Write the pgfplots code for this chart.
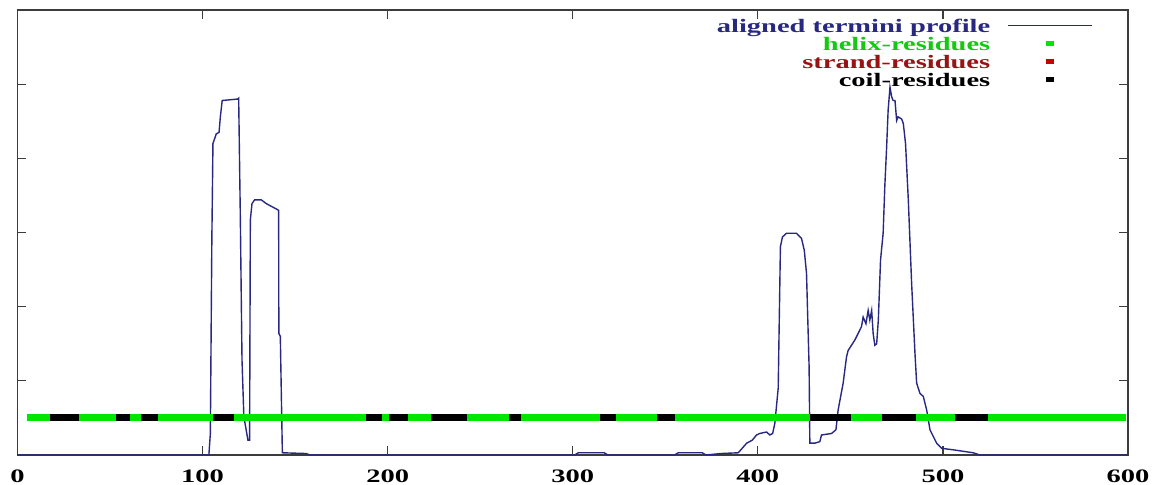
\documentclass[border=0pt]{standalone}
\usepackage{fontspec}
\usepackage{pgfplots}
\pgfplotsset{compat=1.18}
\newfontfamily\widefont[FakeStretch=1.5]{Liberation Serif}
\newcommand\lbl{\widefont\bfseries\fontsize{9.5}{11}\selectfont}
\definecolor{profcol}{RGB}{40,40,130}
\definecolor{helixcol}{RGB}{0,230,0}
\definecolor{helixtxt}{RGB}{20,200,20}
\definecolor{strandcol}{RGB}{200,0,0}
\definecolor{strandtxt}{RGB}{150,20,20}
\definecolor{bordercol}{RGB}{60,60,60}
\pgfplotsset{
  lineleg/.style={legend image code/.code={\draw[##1] (0pt,0.8pt) -- (42pt,0.8pt);}},
  sqleg/.style={legend image code/.code={\path[draw=none] (0pt,0pt) -- (42pt,0pt);
      \fill[#1, draw=none] (19.1pt,-0.6pt) rectangle (22.9pt,2.2pt);}},
}

\begin{document}
\begin{tikzpicture}
\path[use as bounding box] (-8.75pt,-14.5pt) rectangle (572.25pt,227.5pt);
\begin{axis}[
    scale only axis,
    width=555.25pt, height=222.5pt,
    xmin=0, xmax=600, ymin=0, ymax=6,
    xtick={0,100,...,600},
    ytick={0,...,6}, yticklabels={},
    tick align=inside,
    major tick length=4.5pt,
    axis line style={draw=bordercol, line width=0.7pt},
    every tick/.style={bordercol, line width=0.6pt},
    ticklabel style={font=\lbl},
    /pgf/number format/assume math mode=true,
    xticklabel style={yshift=-3.8pt},
    legend plot pos=right,
    legend style={at={(axis description cs:0.9685,0.983)}, anchor=north east,
      draw=none, fill=none, inner sep=0pt, font=\lbl,
      cells={anchor=east}, row sep=0.05pt, column sep=8pt,
      nodes={inner sep=0.5pt, text height=6.6pt, text depth=1.4pt}},
  ]
  % aligned termini profile
  \addplot[profcol, line width=0.7pt, mark=none, lineleg]
  coordinates {
    (0,0) (103.4,0) (104.2,0.29) (105.0,2.90) (105.6,4.20) (107.4,4.33)
    (108.9,4.35) (109.6,4.56) (110.6,4.78) (119.1,4.80) (119.5,4.81)
    (120.4,3.19) (121.3,1.28) (122.3,0.52) (124.5,0.2) (125.4,0.2)
    (125.8,3.17) (126.7,3.39) (128.1,3.44) (131.7,3.44) (134.4,3.39)
    (141.1,3.30) (141.2,1.64) (142,1.60) (143.1,0.03) (156,0.02) (158,0)
    (301,0) (303,0.03) (317,0.03) (319,0) (355,0) (357,0.03) (370,0.03)
    (372,0) (380,0.02) (389.4,0.03) (394,0.16) (397,0.2) (399.3,0.27)
    (401,0.29) (404.7,0.31) (406.5,0.27) (408,0.29) (409.2,0.43) (411,0.90)
    (412.2,2.81) (413.3,2.94) (415.5,2.99) (420.9,2.99) (423.6,2.92)
    (425.1,2.76) (426.3,2.45) (427.7,1.19) (428.1,0.16) (430.8,0.16)
    (433.5,0.18) (434.4,0.27) (439.8,0.29) (442.2,0.34) (443.4,0.61)
    (446.1,0.97) (447.9,1.32) (448.8,1.41) (452.4,1.55) (454.2,1.64)
    (456,1.73) (456.9,1.86) (458.4,1.77) (459.6,1.95) (460.5,1.82)
    (461.5,1.95) (462.3,1.64) (463.2,1.48) (464.2,1.50) (465.1,1.82)
    (466.3,2.63) (467.7,2.99) (468.6,3.62) (469.6,4.16) (470.4,4.65)
    (471.4,4.96) (472.3,4.83) (473.1,4.78) (474.1,4.78) (475,4.51)
    (475.8,4.56) (477.7,4.53) (478.6,4.47) (479.8,4.20) (481.3,3.44)
    (483.1,2.31) (484.9,1.37) (485.8,0.97) (487.6,0.83) (489.4,0.79)
    (491.2,0.61) (493,0.34) (496.6,0.16) (499.3,0.09) (505.6,0.07)
    (516.4,0.03) (520,0) (600,0)
  };
  \addlegendentry{\textcolor{profcol}{aligned termini profile}}
  % helix residues
  \addplot[helixcol, line width=3.5pt, mark=none, sqleg=helixcol]
  coordinates {(5,0.512) (598.8,0.512)};
  \addlegendentry{\textcolor{helixtxt}{helix-residues}}
  % strand residues (none)
  \addlegendimage{sqleg=strandcol}
  \addlegendentry{\textcolor{strandtxt}{strand-residues}}
  % coil residues
  \addplot[black, line width=3.5pt, mark=none, unbounded coords=jump, sqleg=black]
  coordinates {
    (17.3,0.512) (33,0.512) (34,nan)
    (53,0.512) (61,0.512) (62,nan)
    (66.5,0.512) (76,0.512) (77,nan)
    (105.6,0.512) (117,0.512) (118,nan)
    (188.4,0.512) (197,0.512) (198,nan)
    (200.7,0.512) (211,0.512) (212,nan)
    (223.5,0.512) (242.7,0.512) (243,nan)
    (265.3,0.512) (272,0.512) (273,nan)
    (314.8,0.512) (323.4,0.512) (324,nan)
    (345.3,0.512) (355,0.512) (356,nan)
    (428,0.512) (450.5,0.512) (451,nan)
    (467,0.512) (485.3,0.512) (486,nan)
    (506.3,0.512) (524.2,0.512)
  };
  \addlegendentry{coil-residues}
\end{axis}
\end{tikzpicture}
\end{document}
